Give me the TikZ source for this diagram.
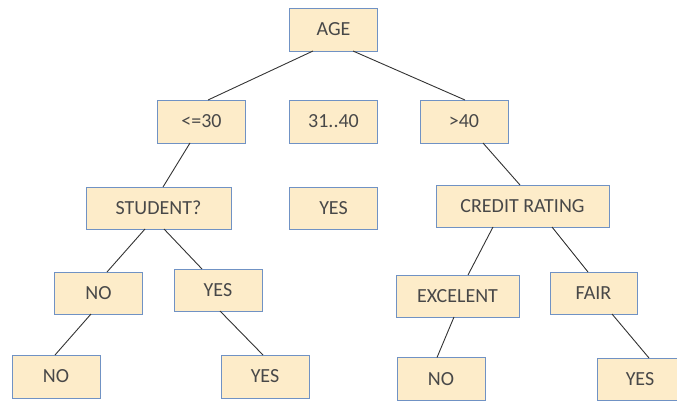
\documentclass[tikz,border=0pt]{standalone}
\usepackage{fontspec}
\setmainfont{Carlito}
\usepackage{tikz}
\definecolor{boxfill}{RGB}{253,236,201}
\definecolor{boxline}{RGB}{112,146,196}
\definecolor{boxtext}{RGB}{72,72,72}

\begin{document}
\begin{tikzpicture}[x=1pt,y=-1pt,
    box/.style={draw=boxline,line width=0.9pt,fill=boxfill,text=boxtext,
      font=\fontsize{20}{24}\selectfont,inner sep=0pt,outer sep=0pt,
      minimum width=88pt,minimum height=43pt},
    branch/.style={draw=black!80,line width=0.9pt}]
\useasboundingbox (0,0) rectangle (677,401);
\clip (0,0) rectangle (677,401);
\node[box] (age) at (333.5,29.5) {AGE};
\node[box] (le30) at (201.5,121.5) {<=30};
\node[box] (mid) at (333.5,121.5) {31..40};
\node[box] (gt40) at (464,121.5) {>40};
\node[box,minimum width=145pt,minimum height=42pt] (student) at (158.5,208) {STUDENT?};
\node[box,minimum height=42pt] (midyes) at (333.5,208) {YES};
\node[box,minimum width=173pt,minimum height=42pt] (credit) at (522.5,206) {CREDIT RATING};
\node[box,minimum height=42pt] (stno) at (98.5,293) {NO};
\node[box,minimum height=42pt] (styes) at (218,290) {YES};
\node[box,minimum width=123pt,minimum height=42pt] (exc) at (457.5,296) {EXCELENT};
\node[box,minimum width=87pt,minimum height=42pt] (fair) at (593.5,293) {FAIR};
\node[box] (stnoleaf) at (56,376.5) {NO};
\node[box] (styesleaf) at (265,376.5) {YES};
\node[box] (excleaf) at (441,379) {NO};
\node[box,minimum width=86pt,minimum height=42pt] (fairleaf) at (640,379) {YES};
\draw[branch] ([xshift=-20.5pt]age.south) -- ([xshift=6.5pt]le30.north);
\draw[branch] ([xshift=19.5pt]age.south) -- ([xshift=1pt]gt40.north);
\draw[branch] ([xshift=-11.5pt]le30.south) -- ([xshift=4.5pt]student.north);
\draw[branch] ([xshift=19pt]gt40.south) -- ([xshift=-2.5pt]credit.north);
\draw[branch] ([xshift=-13.5pt]student.south) -- ([xshift=8.5pt]stno.north);
\draw[branch] ([xshift=5.5pt]student.south) -- ([xshift=-16pt]styes.north);
\draw[branch] ([xshift=-7.5pt]stno.south) -- ([xshift=-1pt]stnoleaf.north);
\draw[branch] ([xshift=2pt]styes.south) -- ([xshift=-2pt]styesleaf.north);
\draw[branch] ([xshift=-29.5pt]credit.south) -- ([xshift=10.5pt]exc.north);
\draw[branch] ([xshift=29.5pt]credit.south) -- ([xshift=-5.5pt]fair.north);
\draw[branch] ([xshift=-3.5pt]exc.south) -- ([xshift=-4pt]excleaf.north);
\draw[branch] ([xshift=18.5pt]fair.south) -- ([xshift=9pt]fairleaf.north);
\end{tikzpicture}
\end{document}
